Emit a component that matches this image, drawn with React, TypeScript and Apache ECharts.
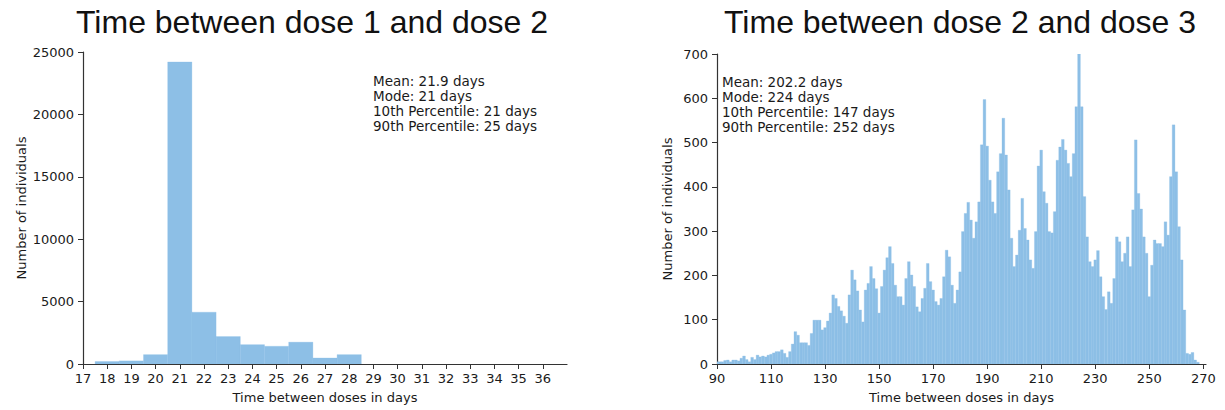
import React, { useEffect, useRef } from "react";
import * as echarts from "echarts";

const LEFT_TITLE = "Time between dose 1 and dose 2";
const RIGHT_TITLE = "Time between dose 2 and dose 3";
const X_NAME = "Time between doses in days";
const Y_NAME = "Number of individuals";

const LEFT_STATS = ["Mean: 21.9 days", "Mode: 21 days", "10th Percentile: 21 days", "90th Percentile: 25 days"];
const RIGHT_STATS = ["Mean: 202.2 days", "Mode: 224 days", "10th Percentile: 147 days", "90th Percentile: 252 days"];

const LEFT_DAYS = [18, 19, 20, 21, 22, 23, 24, 25, 26, 27, 28];
const LEFT_COUNTS = [200, 250, 750, 24200, 4150, 2200, 1550, 1420, 1750, 480, 750];
const LEFT_X_TICKS = [17, 18, 19, 20, 21, 22, 23, 24, 25, 26, 27, 28, 29, 30, 31, 32, 33, 34, 35, 36];

const RIGHT_FIRST_DAY = 90;
const RIGHT_COUNTS = [
  5, 5, 5, 8, 9, 5, 9, 9, 7, 13, // 90-99
  18, 10, 5, 15, 10, 20, 16, 18, 16, 20, // 100-109
  22, 25, 28, 28, 32, 24, 15, 28, 45, 73, // 110-119
  65, 48, 48, 48, 42, 69, 99, 99, 99, 77, // 120-129
  82, 97, 115, 156, 148, 130, 120, 108, 92, 156, // 130-139
  212, 190, 165, 122, 95, 167, 182, 220, 193, 170, // 140-149
  115, 175, 212, 240, 265, 227, 178, 152, 152, 133, // 150-159
  193, 231, 201, 175, 129, 118, 148, 171, 227, 186, // 160-169
  167, 141, 133, 148, 197, 257, 242, 178, 137, 167, // 170-179
  208, 299, 340, 365, 325, 284, 321, 366, 495, 597, // 180-189
  492, 415, 366, 340, 434, 475, 555, 472, 393, 284, // 190-199
  220, 246, 302, 374, 306, 280, 235, 216, 299, 447, // 200-209
  483, 389, 363, 299, 296, 344, 460, 490, 507, 483, // 210-219
  453, 423, 475, 581, 700, 581, 378, 287, 231, 220, // 220-229
  235, 256, 197, 152, 123, 163, 137, 193, 287, 276, // 230-239
  231, 250, 287, 220, 348, 506, 385, 350, 287, 250, // 240-249
  152, 223, 280, 272, 272, 265, 321, 291, 423, 540, // 250-259
  434, 310, 235, 122, 24, 22, 26, 9, 4 // 260-268
];
const RIGHT_X_TICKS = [90, 110, 130, 150, 170, 190, 210, 230, 250, 270];

const BAR_COLOR = "#8dbfe6";
const TEXT_COLOR = "#1a1a1a";
const AXIS_COLOR = "#333";
const FONT = '"DejaVu Sans", sans-serif';

function histItem(params: any, api: any) {
  const x = api.value(0);
  const y = api.value(1);
  const p0 = api.coord([x - 0.5, y]);
  const p1 = api.coord([x + 0.5, 0]);
  return {
    type: "rect",
    shape: { x: p0[0], y: p0[1], width: p1[0] - p0[0], height: p1[1] - p0[1] },
    style: { fill: BAR_COLOR, stroke: BAR_COLOR, lineWidth: 0.3 },
  };
}

function xAxisCfg(gridIndex: number, min: number, max: number, ticks: number[]) {
  return {
    type: "value",
    gridIndex,
    min,
    max,
    splitLine: { show: false },
    axisLine: { show: true, onZero: false, lineStyle: { color: AXIS_COLOR, width: 1.2 } },
    axisTick: { show: true, length: 5, customValues: ticks, lineStyle: { color: AXIS_COLOR, width: 1 } },
    axisLabel: { customValues: ticks, fontSize: 13, fontFamily: FONT, color: TEXT_COLOR, margin: 8, formatter: (v: number) => String(v) },
    name: X_NAME,
    nameLocation: "middle",
    nameGap: 27,
    nameTextStyle: { fontSize: 13, fontFamily: FONT, color: TEXT_COLOR },
  };
}

function yAxisCfg(gridIndex: number, max: number, interval: number, nameGap: number) {
  return {
    type: "value",
    gridIndex,
    min: 0,
    max,
    interval,
    splitLine: { show: false },
    axisLine: { show: true, lineStyle: { color: AXIS_COLOR, width: 1.2 } },
    axisTick: { show: true, length: 5, lineStyle: { color: AXIS_COLOR, width: 1 } },
    axisLabel: { fontSize: 13, fontFamily: FONT, color: TEXT_COLOR, margin: 9, formatter: (v: number) => String(v) },
    name: Y_NAME,
    nameLocation: "middle",
    nameRotate: 90,
    nameGap,
    nameTextStyle: { fontSize: 13, fontFamily: FONT, color: TEXT_COLOR },
  };
}

export default function App() {
  const ref = useRef<HTMLDivElement>(null);
  useEffect(() => {
    if (!ref.current) return;
    const chart = echarts.init(ref.current, null, { renderer: "svg" });
    const leftData = LEFT_DAYS.map((d, i) => [d, LEFT_COUNTS[i]]);
    const rightData = RIGHT_COUNTS.map((v, i) => [RIGHT_FIRST_DAY + i, v]);
    const titleFont = '32px "Liberation Sans", Arial, sans-serif';
    const statFont = '13.5px "DejaVu Sans", sans-serif';
    chart.setOption({
      animation: false,
      backgroundColor: "#fff",
      grid: [
        { left: 83, top: 52, width: 484, height: 312 },
        { left: 717, top: 54, width: 489, height: 310 },
      ],
      xAxis: [xAxisCfg(0, 17, 37, LEFT_X_TICKS), xAxisCfg(1, 90, 271, RIGHT_X_TICKS)],
      yAxis: [yAxisCfg(0, 25000, 5000, 55), yAxisCfg(1, 700, 100, 43)],
      series: [
        { type: "custom", xAxisIndex: 0, yAxisIndex: 0, data: leftData, renderItem: histItem, clip: true, encode: { x: 0, y: 1 } },
        { type: "custom", xAxisIndex: 1, yAxisIndex: 1, data: rightData, renderItem: histItem, clip: true, encode: { x: 0, y: 1 } },
      ],
      graphic: [
        { type: "text", x: 312, y: 22, style: { text: LEFT_TITLE, font: titleFont, fill: "#111", textAlign: "center", textVerticalAlign: "middle" } },
        { type: "text", x: 960, y: 22, style: { text: RIGHT_TITLE, font: titleFont, fill: "#111", textAlign: "center", textVerticalAlign: "middle" } },
        { type: "text", x: 373, y: 73, style: { text: LEFT_STATS.join("\n"), font: statFont, lineHeight: 15, fill: TEXT_COLOR, textAlign: "left", textVerticalAlign: "top" } },
        { type: "text", x: 722, y: 74, style: { text: RIGHT_STATS.join("\n"), font: statFont, lineHeight: 15, fill: TEXT_COLOR, textAlign: "left", textVerticalAlign: "top" } },
      ],
    });
    return () => chart.dispose();
  }, []);
  return <div ref={ref} style={{ position: "fixed", left: 0, top: 0, width: 1225, height: 410, background: "#fff" }} />;
}
